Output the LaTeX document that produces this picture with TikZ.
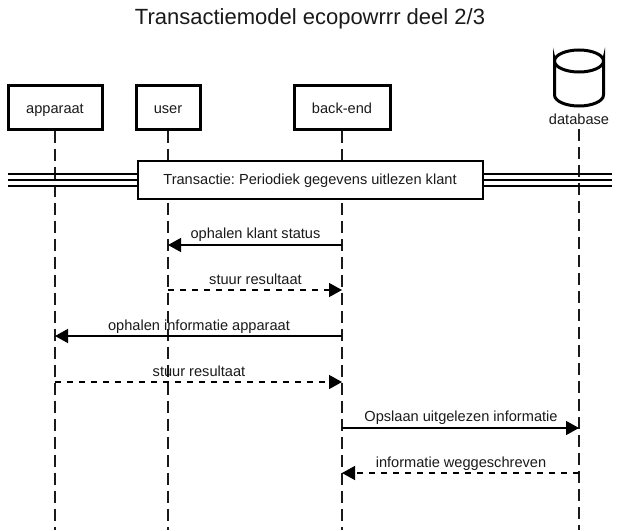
\documentclass[tikz,border=0pt]{standalone}
\usepackage{fontspec}
\setmainfont{Liberation Sans}
\usetikzlibrary{arrows.meta,shapes.geometric}
\definecolor{ink}{HTML}{1A1A1A}
\frenchspacing
\tikzset{
  actor/.style={draw=black,line width=3pt,fill=white,minimum height=44pt,font=\fontsize{14.6}{16}\selectfont,inner sep=0pt,text=ink,text height=12pt,text depth=0pt},
  life/.style={draw=ink,line width=1.1pt,dash pattern=on 12pt off 6pt},
  msg/.style={draw=black,line width=1.4pt,-{Triangle[length=13pt,width=14pt]},shorten >=0pt},
  reply/.style={msg,dash pattern=on 6pt off 6pt},
  lab/.style={font=\fontsize{14.6}{16}\selectfont,text=ink,inner sep=0pt,anchor=base},
  dbl/.style={draw=black,line width=1.1pt}
}
\begin{document}
\begin{tikzpicture}[x=1pt,y=-1pt]
\useasboundingbox (0,0) rectangle (620,530);
\fill[white] (0,0) rectangle (620,530);
\node[font=\fontsize{22}{26}\selectfont,text=ink,inner sep=0pt,anchor=base] (title) at (310,24.5) {Transactiemodel ecopowrrr deel 2/3};
% actors
\node[actor,minimum width=94pt] (app) at (55,107) {apparaat};
\node[actor,minimum width=64pt] (usr) at (168,107) {user};
\node[actor,minimum width=96pt] (be) at (342,107) {back-end};
% database
\draw[line width=3pt,fill=white] (554.5,61) arc[start angle=180,end angle=0,x radius=24.5,y radius=11] -- (603.5,95) arc[start angle=0,end angle=180,x radius=24.5,y radius=11] -- cycle;
\draw[line width=3pt] (554.5,61) arc[start angle=180,end angle=360,x radius=24.5,y radius=11];
\node[lab] (dbl) at (579,124) {database};
% lifeline ends
\coordinate (appEnd) at (55,530);
\coordinate (usrEnd) at (168,530);
\coordinate (beEnd) at (342,530);
\coordinate (dbTop) at (579,129);
\coordinate (dbEnd) at (579,530);
\draw[life] (app.south) -- (appEnd);
\draw[life] (usr.south) -- (usrEnd);
\draw[life] (be.south) -- (beEnd);
\draw[life] (dbTop) -- (dbEnd);
% divider
\coordinate (dl1) at (8,174); \coordinate (dl2) at (8,180); \coordinate (dl3) at (8,186);
\coordinate (dr1) at (612,174); \coordinate (dr2) at (612,180); \coordinate (dr3) at (612,186);
\draw[dbl] (dl1) -- (dr1);
\draw[dbl] (dl2) -- (dr2);
\draw[dbl] (dl3) -- (dr3);
\node[draw=black,line width=1.3pt,fill=white,minimum width=345pt,minimum height=38pt,inner sep=0pt,font=\fontsize{14.6}{16}\selectfont,text=ink,text height=10pt,text depth=2pt] (tx) at (310.5,180) {\hspace*{-1pt}Transactie: Periodiek gegevens uitlezen klant};
% message anchors
\foreach \n/\y in {a/245,b/290,c/336,d/382,e/428,f/473}{
  \coordinate (app\n) at (55,\y);
  \coordinate (usr\n) at (168,\y);
  \coordinate (be\n) at (342,\y);
  \coordinate (db\n) at (579,\y);
}
\draw[msg] (bea) -- (usra);
\node[lab] (la) at (255.5,238) {ophalen klant status};
\draw[reply] (usrb) -- (beb);
\node[lab] (lb) at (255.5,284) {stuur resultaat};
\draw[msg] (bec) -- (appc);
\node[lab] (lc) at (199,330) {ophalen informatie apparaat};
\draw[reply] (appd) -- (bed);
\node[lab] (ld) at (199,376) {stuur resultaat};
\draw[msg] (bee) -- (dbe);
\node[lab] (le) at (461,421) {Opslaan uitgelezen informatie};
\draw[reply] (dbf) -- (bef);
\node[lab] (lf) at (461,467) {informatie weggeschreven};
\end{tikzpicture}
\end{document}
